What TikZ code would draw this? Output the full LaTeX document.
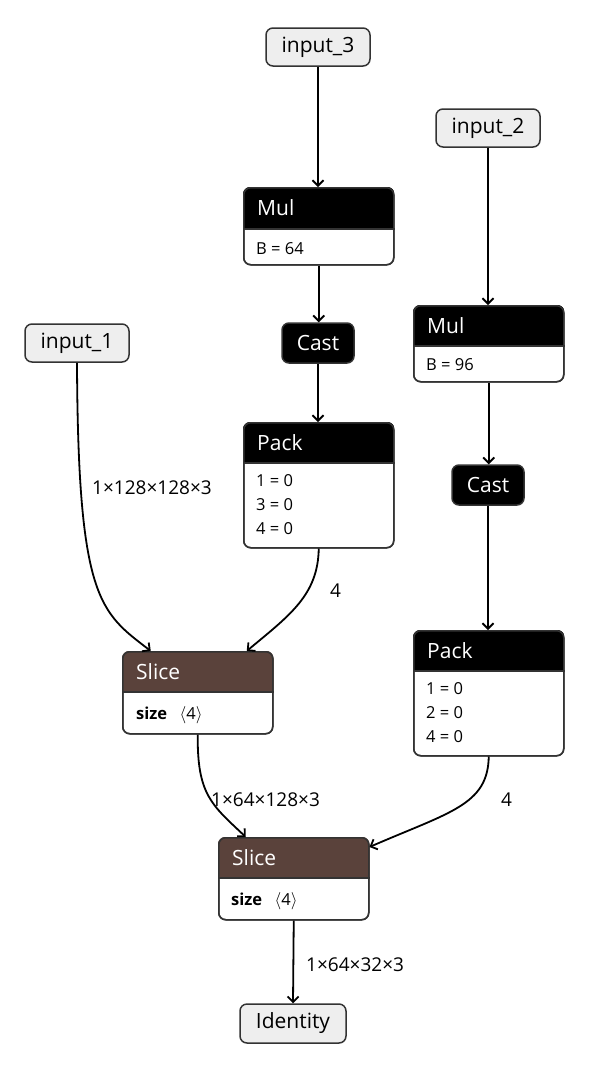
\documentclass[tikz,border=0pt]{standalone}
\usepackage{fontspec}
\setmainfont{Open Sans}
\usetikzlibrary{arrows.meta}

\definecolor{frame}{HTML}{333333}
\definecolor{termfill}{HTML}{EEEEEE}
\definecolor{slicebrown}{RGB}{90,66,59}

\tikzset{
  x=1pt, y=-1pt,
  border/.style={draw=frame, line width=1.5pt},
  termbox/.style={border, fill=termfill, rounded corners=7pt, minimum width=104pt,
    minimum height=38pt, inner sep=0pt, font=\fontsize{21}{25}\selectfont},
  castbox/.style={border, fill=black, text=white, rounded corners=7pt, minimum width=72pt,
    minimum height=40pt, inner sep=0pt, font=\fontsize{21}{25}\selectfont},
  opbox/.style={border, rounded corners=7pt, inner sep=0pt, anchor=north west,
    minimum width=150pt},
  title/.style={anchor=west, text=white, inner sep=0pt, font=\fontsize{21}{25}\selectfont},
  attr/.style={anchor=west, inner sep=0pt, font=\fontsize{16.5}{20}\selectfont},
  dimlabel/.style={anchor=west, inner sep=0pt, font=\fontsize{19}{23}\selectfont},
  flow/.style={-{Straight Barb[length=5.5pt,width=11pt]}, line width=1.8pt},
}

% header band of an operator box: fill, separator and re-stroked frame
\newcommand{\opheader}[4]{%
  \begin{scope}
    \clip[rounded corners=7pt] (#1.north west) rectangle (#1.south east);
    \fill[#3] (#1.north west) rectangle ([yshift=-#2pt]#1.north east);
  \end{scope}
  \draw[border] ([yshift=-#2pt]#1.north west) -- ([yshift=-#2pt]#1.north east);
  \draw[border, rounded corners=7pt] ([shift={(0.75pt,-0.75pt)}]#1.north west)
    rectangle ([shift={(-0.75pt,0.75pt)}]#1.south east);
  \node[title] (#1-t) at ([xshift=14pt,yshift=-#2pt/2]#1.north west) {#4};
}

\begin{document}
\begin{tikzpicture}
\useasboundingbox (0,0) rectangle (592,1072);

% inputs
\node[termbox] (in3) at (318,47) {input\_3};
\node[termbox] (in2) at (488,128) {input\_2};
\node[termbox] (in1) at (77,343) {input\_1};

% left branch
\node[opbox, minimum height=77pt] (mul1) at (243,187) {};
\opheader{mul1}{42}{black}{Mul}
\node[attr] (mul1-b) at (256,249) {B = 64};

\node[castbox] (cast1) at (318,343) {Cast};

\node[opbox, minimum height=125pt] (pack1) at (243,422) {};
\opheader{pack1}{41}{black}{Pack}
\node[attr] (pack1-a) at (256,481) {1 = 0};
\node[attr] (pack1-b) at (256,505) {3 = 0};
\node[attr] (pack1-c) at (256,529) {4 = 0};

% right branch
\node[opbox, minimum height=76pt] (mul2) at (413,305) {};
\opheader{mul2}{41}{black}{Mul}
\node[attr] (mul2-b) at (426,365) {B = 96};

\node[castbox] (cast2) at (488,485) {Cast};

\node[opbox, minimum height=125pt] (pack2) at (413,630) {};
\opheader{pack2}{41}{black}{Pack}
\node[attr] (pack2-a) at (426,689) {1 = 0};
\node[attr] (pack2-b) at (426,713) {2 = 0};
\node[attr] (pack2-c) at (426,737) {4 = 0};

% slices
\node[opbox, minimum height=82pt] (slice1) at (122,651) {};
\opheader{slice1}{41}{slicebrown}{Slice}
\node[attr] (slice1-b) at (136,715) {\textbf{size}\hspace{0.75em}$\langle$4$\rangle$};

\node[opbox, minimum height=82pt] (slice2) at (218,837) {};
\opheader{slice2}{41}{slicebrown}{Slice}
\node[attr] (slice2-b) at (231,901) {\textbf{size}\hspace{0.75em}$\langle$4$\rangle$};

\node[termbox, minimum width=106pt, minimum height=39pt] (ident) at (293,1023.5) {Identity};

% connectors
\draw[flow] (in3.south) -- (in3.south |- mul1.north);
\draw[flow] (mul1.south) -- (mul1.south |- cast1.north);
\draw[flow] (cast1.south) -- (cast1.south |- pack1.north);
\draw[flow] (in2.south) -- (in2.south |- mul2.north);
\draw[flow] (mul2.south) -- (mul2.south |- cast2.north);
\draw[flow] (cast2.south) -- (cast2.south |- pack2.north);

\draw[flow] (in1.south) .. controls (78,600) and (100,612) .. ([xshift=-47pt]slice1.north);
\draw[flow] (pack1.south) .. controls (318,595) and (290,615) .. ([xshift=49pt]slice1.north);
\draw[flow] (slice1.south) .. controls (197,795) and (212,805) .. ([xshift=-48pt]slice2.north);
\draw[flow] (pack2.south) .. controls (488,805) and (450,812) .. ([yshift=-10pt]slice2.north east);
\draw[flow] (slice2.south) -- (ident.north);

% tensor shape labels
\node[dimlabel] (l1) at (92,488) {1×128×128×3};
\node[dimlabel] (l2) at (330,591) {4};
\node[dimlabel] (l3) at (211,800) {1×64×128×3};
\node[dimlabel] (l4) at (501,800) {4};
\node[dimlabel] (l5) at (306,965) {1×64×32×3};
\end{tikzpicture}
\end{document}
